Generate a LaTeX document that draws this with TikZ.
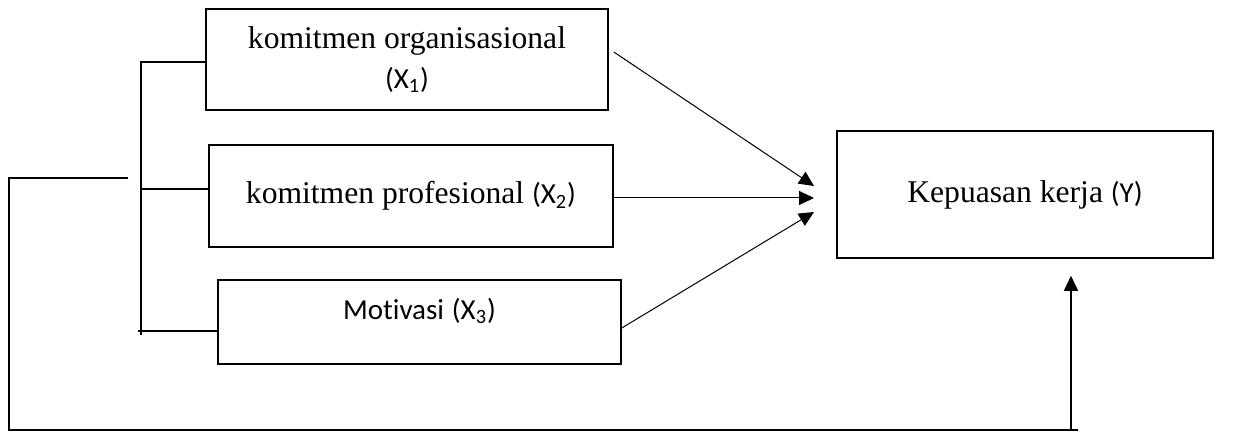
\documentclass[tikz,border=0pt]{standalone}
\usepackage{fontspec}
\setmainfont{Liberation Serif}
\newfontfamily\calfont[Ligatures=NoCommon]{Carlito}
\usetikzlibrary{calc, arrows.meta}
\newcommand{\calsize}{\calfont\fontsize{14.5}{17}\selectfont}
\newcommand{\varlbl}[2]{{\calsize (#1\textsubscript{#2})}}

\begin{document}
\begin{tikzpicture}[x=0.5pt, y=-0.5pt, >={Triangle[length=7.5pt,width=7pt]},
  box/.style={draw, line width=0.8pt, inner sep=0pt, align=center,
    font=\fontsize{15.8}{20}\selectfont},
  link/.style={line width=0.8pt},
  arr/.style={->, line width=0.5pt}]
\useasboundingbox (0,0) rectangle (1243,432);

\node[box, minimum width=201pt, minimum height=50.5pt] (org) at (407,59.5)
  {komitmen organisasional\\\varlbl{X}{1}};
\node[box, minimum width=202pt, minimum height=51pt] (prof) at (411,196)
  {komitmen profesional \varlbl{X}{2}};
\node[box, minimum width=201.5pt, minimum height=42pt, text depth=13pt] (mot) at (419.5,322)
  {{\calsize Motivasi} \varlbl{X}{3}};
\node[box, minimum width=188pt, minimum height=63.5pt] (kep) at (1025,194.5)
  {Kepuasan kerja {\calsize (Y)}};

\coordinate (bt) at (141,62);
\coordinate (bb) at (141,335);
\draw[link] (org.west |- bt) -- (bt) -- (bb);
\draw[link] ($(prof.west)+(0,-7)$) -- (bt |- 0,189);
\draw[link] ($(mot.west)+(0,9)$) -- ($(bb)+(-3,-4)$);

\coordinate (t1) at (814,186);
\coordinate (t2) at (814,198);
\coordinate (t3) at (814,212);
\draw[arr] ([xshift=2.5pt,yshift=3.75pt]org.east) -- (t1);
\draw[arr] (prof.east |- t2) -- (t2);
\draw[arr] ([yshift=-3pt]mot.east) -- (t3);

\coordinate (fb) at (128,178);
\coordinate (fl) at (9,178);
\coordinate (fe) at (1078,430);
\coordinate (fu) at (1071,430);
\draw[link] (fb) -- (fl) |- (fe);
\draw[link, ->, shorten >=8.5pt] (fu) -- (fu |- kep.south);
\end{tikzpicture}
\end{document}
